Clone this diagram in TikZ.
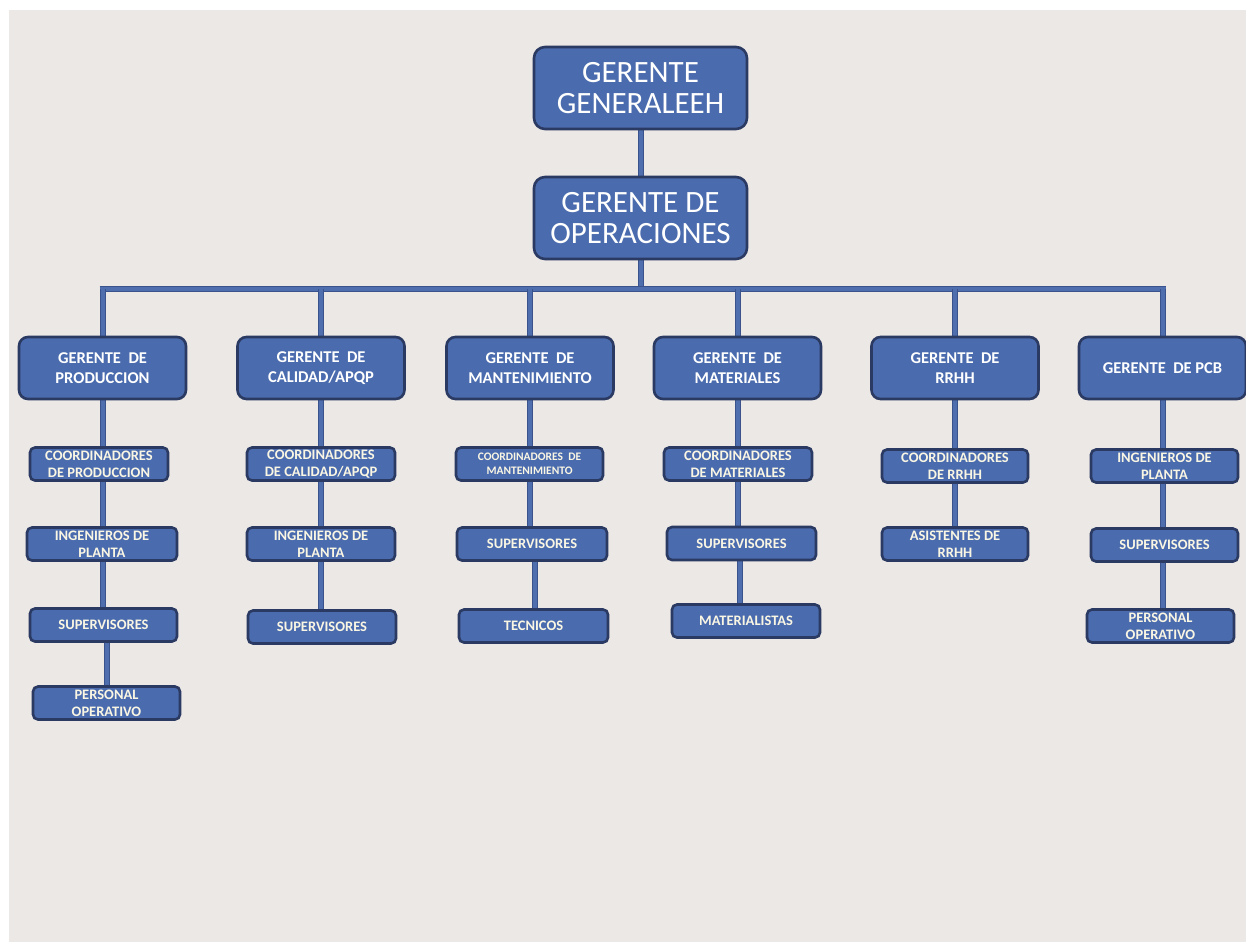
\documentclass[tikz,border=0pt]{standalone}
\usepackage{fontspec}
\setmainfont{Carlito}
\usetikzlibrary{calc}
\pgfdeclarelayer{bgfill}
\pgfdeclarelayer{background}
\pgfsetlayers{bgfill,background,main}
\definecolor{bg}{HTML}{ECE8E5}
\definecolor{boxfill}{HTML}{4A6BAD}
\definecolor{boxedge}{HTML}{2B3A62}
\definecolor{lineedge}{HTML}{3A538C}
\definecolor{lineblue}{HTML}{4F6EAE}
\definecolor{txtA}{HTML}{FFFFFF}
\definecolor{txtB}{HTML}{FAF6E4}
\tikzset{
  boxbase/.style={draw=boxedge, fill=boxfill, line width=2.6pt, align=center, inner sep=0pt},
  lvlA/.style={boxbase, rounded corners=11pt, minimum width=213pt, minimum height=82pt,
     text=txtA, font=\fontsize{31}{31}\selectfont},
  lvlB/.style={boxbase, rounded corners=9pt, minimum width=167pt, minimum height=62pt,
     text=txtA, font=\fontsize{16.5}{20}\selectfont\bfseries},
  lvlC/.style={boxbase, rounded corners=5pt, minimum height=33pt,
     text=txtB, font=\fontsize{14.5}{17}\selectfont\bfseries},
  connout/.style={draw=lineedge, line width=6pt},
  connin/.style={draw=lineblue, line width=4pt},
}
\newcommand{\conn}[2]{%
  \draw[connout] #1 -- #2;
  \draw[connin] #1 -- #2;}
\begin{document}
\begin{tikzpicture}[x=1pt,y=-1pt]
\useasboundingbox (0,0) rectangle (1246,943);
\begin{pgfonlayer}{bgfill}
\fill[white] (0,0) rectangle (1246,943);
\fill[bg] (9,10) rectangle (1246,942);
\end{pgfonlayer}

% level 1
\node[lvlA] (gen) at (640.5,88) {GERENTE\\GENERALEEH};
\node[lvlA] (ops) at (640.5,218) {GERENTE DE\\OPERACIONES};
\coordinate (bus) at (640.5,289);

% level 2
\node[lvlB] (g1) at (102.5,368) {GERENTE \ DE\\PRODUCCION};
\node[lvlB] (g2) at (321,368) {GERENTE \ DE\\CALIDAD/APQP};
\node[lvlB] (g3) at (530,368) {GERENTE \ DE\\MANTENIMIENTO};
\node[lvlB] (g4) at (737.5,368) {GERENTE \ DE\\MATERIALES};
\node[lvlB] (g5) at (955,368) {GERENTE \ DE\\RRHH};
\node[lvlB] (g6) at (1162.5,368) {GERENTE \ DE PCB};

% column 1
\node[lvlC, minimum width=138pt] (c1a) at (99,464) {COORDINADORES\\DE PRODUCCION};
\node[lvlC, minimum width=150pt] (c1b) at (102,544) {INGENIEROS DE\\PLANTA};
\node[lvlC, minimum width=147pt] (c1c) at (103.5,625) {SUPERVISORES};
\node[lvlC, minimum width=147pt] (c1d) at (106.5,703) {PERSONAL\\OPERATIVO};
% column 2
\node[lvlC, minimum width=148pt] (c2a) at (321,464) {COORDINADORES\\DE CALIDAD/APQP};
\node[lvlC, minimum width=148pt] (c2b) at (321,544) {INGENIEROS DE\\PLANTA};
\node[lvlC, minimum width=148pt] (c2c) at (322,627) {SUPERVISORES};
% column 3
\node[lvlC, minimum width=147pt, font=\fontsize{11.5}{14}\selectfont\bfseries] (c3a) at (529.5,464) {COORDINADORES \ DE\\MANTENIMIENTO};
\node[lvlC, minimum width=150pt] (c3b) at (532,544) {SUPERVISORES};
\node[lvlC, minimum width=149pt] (c3c) at (533.5,626) {TECNICOS};
% column 4
\node[lvlC, minimum width=148pt] (c4a) at (738,464) {COORDINADORES\\DE MATERIALES};
\node[lvlC, minimum width=149pt] (c4b) at (741.5,543.5) {SUPERVISORES};
\node[lvlC, minimum width=148pt] (c4c) at (746,621) {MATERIALISTAS};
% column 5
\node[lvlC, minimum width=146pt] (c5a) at (955,466) {COORDINADORES\\DE RRHH};
\node[lvlC, minimum width=146pt] (c5b) at (955,544) {ASISTENTES DE\\RRHH};
% column 6
\node[lvlC, minimum width=147pt] (c6a) at (1164.5,466) {INGENIEROS DE\\PLANTA};
\node[lvlC, minimum width=147pt] (c6b) at (1164.5,545) {SUPERVISORES};
\node[lvlC, minimum width=147pt] (c6c) at (1160.5,626) {PERSONAL\\OPERATIVO};

\coordinate (x1) at (107,0);
\coordinate (x3) at (535,0);
\coordinate (x4) at (740,0);

\begin{pgfonlayer}{background}
  \conn{(gen)}{(ops)}
  \conn{(ops)}{(ops |- bus)}
  \conn{([xshift=-3pt]g1 |- bus)}{([xshift=3pt]g6 |- bus)}
  \conn{(g1 |- bus)}{(g1)}
  \conn{(g2 |- bus)}{(g2)}
  \conn{(g3 |- bus)}{(g3)}
  \conn{(g4 |- bus)}{(g4)}
  \conn{(g5 |- bus)}{(g5)}
  \conn{(g6 |- bus)}{(g6)}
  \conn{(g1)}{(g1 |- c1c)}
  \conn{(x1 |- c1c)}{(x1 |- c1d)}
  \conn{(g2)}{(g2 |- c2c)}
  \conn{(g3)}{(g3 |- c3b)}
  \conn{(x3 |- c3b)}{(x3 |- c3c)}
  \conn{(g4)}{(g4 |- c4b)}
  \conn{(x4 |- c4b)}{(x4 |- c4c)}
  \conn{(g5)}{(g5 |- c5b)}
  \conn{(g6)}{(g6 |- c6c)}
\end{pgfonlayer}
\end{tikzpicture}
\end{document}
